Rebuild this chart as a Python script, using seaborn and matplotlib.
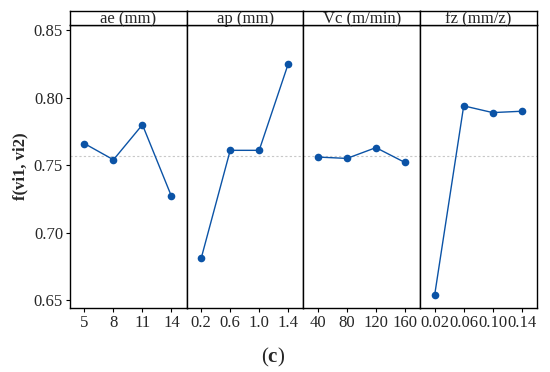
import numpy as np
import pandas as pd
import matplotlib
matplotlib.use("Agg")
import matplotlib.pyplot as plt
import seaborn as sns

# ── Data ──────────────────────────────────────────────────────────────────────
factors = ["ae (mm)", "ap (mm)", "Vc (m/min)", "fz (mm/z)"]
levels = [
    ["5", "8", "11", "14"],
    ["0.2", "0.6", "1.0", "1.4"],
    ["40", "80", "120", "160"],
    ["0.02", "0.06", "0.10", "0.14"],
]
ae_vals = [0.766, 0.754, 0.780, 0.727]
ap_vals = [0.681, 0.761, 0.761, 0.825]
vc_vals = [0.756, 0.755, 0.763, 0.752]
fz_vals = [0.654, 0.794, 0.789, 0.790]
series = [ae_vals, ap_vals, vc_vals, fz_vals]

sns.set_style("white")
plt.rcParams["font.family"] = ["Liberation Serif", "DejaVu Serif"]
plt.rcParams["mathtext.fontset"] = "custom"
plt.rcParams["mathtext.rm"] = "Liberation Serif"
plt.rcParams["mathtext.bf"] = "Liberation Serif:bold"

blue = "#0b53a6"
grand_mean = np.mean(np.concatenate(series))

fig = plt.figure(figsize=(5.5, 3.72), dpi=100)
left, right = 70 / 550, 537 / 550
bottom, top = 1 - 308 / 372, 1 - 25 / 372
strip_h = 14 / 372
w = (right - left) / 4

for i, (name, labs, vals) in enumerate(zip(factors, levels, series)):
    ax = fig.add_axes([left + i * w, bottom, w, top - bottom])
    df = pd.DataFrame({"pos": np.arange(len(vals)), "val": vals})
    ax.axhline(grand_mean, color="#c8c8c8", linestyle=(0, (2, 2)), linewidth=0.8, zorder=0)
    sns.lineplot(data=df, x="pos", y="val", color=blue, linewidth=1.0,
                 marker="o", markersize=5.5, markeredgewidth=0, ax=ax)
    ax.set_xlim(-0.5, 3.53)
    ax.set_ylim(0.644, 0.854)
    ax.set_xticks(df["pos"])
    ax.set_xticklabels(labs, fontsize=12)
    ax.set_xlabel("")
    ax.set_ylabel("")
    for s in ax.spines.values():
        s.set_color("black")
        s.set_linewidth(1.0)
    ax.tick_params(axis="both", length=3, width=0.8, color="black", pad=2,
                   bottom=True, left=(i == 0))
    if i == 0:
        ax.set_yticks([0.65, 0.70, 0.75, 0.80, 0.85])
        ax.set_yticklabels(["0.65", "0.70", "0.75", "0.80", "0.85"], fontsize=12)
        ax.set_ylabel("f(vi1, vi2)", fontsize=12, fontweight="bold", labelpad=4)
    else:
        ax.set_yticks([])

    # strip
    sax = fig.add_axes([left + i * w, top, w, strip_h])
    sax.set_xticks([])
    sax.set_yticks([])
    for s in sax.spines.values():
        s.set_color("black")
        s.set_linewidth(1.0)
    sax.text(0.5, 0.42, name, ha="center", va="center", fontsize=12,
             transform=sax.transAxes)

fig.text(273 / 550, 1 - 357 / 372, r"($\mathbf{c}$)", ha="center", va="center", fontsize=15)

plt.savefig("out.png", dpi=100)
